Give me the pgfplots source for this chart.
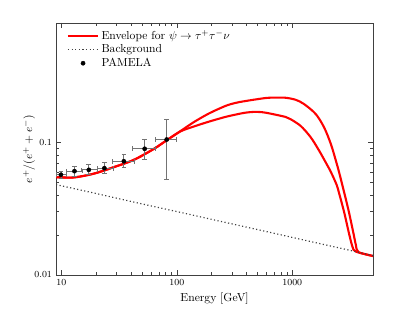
\documentclass[border=0pt]{standalone}
\usepackage{pgfplots}
\pgfplotsset{compat=1.18}
\pgfplotsset{
  mylegline/.style={legend image code/.code={\draw[##1] (0pt,0pt) -- (26pt,0pt);}},
  mylegmark/.style={legend image code/.code={\draw[mark repeat=2,mark phase=2,##1] plot coordinates {(0pt,0pt) (13pt,0pt) (26pt,0pt)};}},
}
\begin{document}
\begin{tikzpicture}
\begin{loglogaxis}[
  scale only axis,
  width=273.3pt, height=217.2pt,
  xmin=9, xmax=5000, ymin=0.01, ymax=0.8,
  log ticks with fixed point,
  /pgf/number format/1000 sep={},
  xtick={10,100,1000}, ytick={0.01,0.1},
  tick label style={font=\footnotesize},
  axis line style={black!75, line width=0.7pt},
  every tick/.style={black!75, line width=0.5pt},
  xlabel={Energy [GeV]},
  ylabel={$e^+/(e^++e^-)$},
  ylabel style={at={(axis description cs:-0.085,0.5)}, anchor=center},
  legend style={draw=none, fill=none, at={(axis description cs:0.03,0.985)}, anchor=north west,
    font=\normalsize, row sep=-1pt, inner sep=1pt},
  legend cell align=left,
  clip=true,
]
\addplot[red, line width=1.8pt, smooth, tension=0.5, mylegline] coordinates {
 (9,0.0548) (12.8,0.0545) (19.1,0.0582) (28.5,0.0652) (42.6,0.0741) (63.5,0.0897)
 (81.7,0.104) (106.8,0.1215) (139.4,0.1421) (190,0.1659) (263,0.1888) (320,0.1990)
 (392.6,0.2058) (586,0.2168)
 (720,0.2185) (874,0.2179) (1068,0.2104) (1262,0.1954) (1594,0.1643) (1883,0.1303)
 (2153,0.0978) (2380,0.0732) (2542,0.0595) (2754,0.0451) (2908,0.0373) (3106,0.02925)
 (3366,0.02106) (3552,0.01681) (3735,0.01489) (5000,0.0139)};
\addlegendentry{Envelope for $\psi\rightarrow\tau^+\tau^-\nu$}
\addplot[red, line width=1.8pt, smooth, tension=0.5, forget plot] coordinates {
 (9,0.0548) (12.8,0.0545) (19.1,0.0582) (28.5,0.0652) (42.6,0.0741) (63.5,0.0897)
 (81.7,0.104) (106.8,0.121) (139.4,0.1319) (190,0.1439) (263,0.1561) (320,0.1623)
 (392.6,0.1681) (480,0.1705)
 (586,0.1681) (874,0.1561) (967,0.150) (1181,0.1335) (1443,0.1096) (1703,0.0871)
 (1948,0.0707) (2123,0.0616) (2227,0.0565) (2428,0.0475) (2541,0.0414) (2810,0.02977)
 (3106,0.02033) (3325,0.01624) (3552,0.0150) (5000,0.0139)};
\addplot[black!75, line width=1pt, dash pattern=on 1pt off 2.1pt, mylegline] coordinates {
 (9,0.0481) (20,0.0412) (50,0.0344) (100,0.0301) (200,0.0263) (500,0.0220)
 (1000,0.0192) (2000,0.01677) (3000,0.0155) (5000,0.0140)};
\addlegendentry{Background}
\addplot[only marks, mark=*, mark size=1.8pt, black, mylegmark,
  error bars/.cd, x dir=both, x explicit, y dir=both, y explicit,
  error bar style={black!55, line width=0.7pt},
  error mark options={black!55, line width=0.6pt, mark size=2pt, rotate=90}]
  coordinates {
 (9.92,0.0571) += (1.1,0.0037) -= (0.87,0.0038)
 (13.0,0.0608) += (2.1,0.0048) -= (1.95,0.0049)
 (17.3,0.0622) += (3.1,0.0061) -= (2.4,0.0051)
 (23.6,0.0640) += (4.5,0.0063) -= (3.2,0.0053)
 (34.8,0.0722) += (7.7,0.0090) -= (7.3,0.0078)
 (52.7,0.0897) += (13.0,0.0169) -= (11.6,0.0155)
 (81.7,0.1054) += (18.3,0.0453) -= (16.7,0.0530)
};
\addlegendentry{PAMELA}
\end{loglogaxis}
\useasboundingbox (-48.3pt,-29.3pt) rectangle (306pt,237pt);
\end{tikzpicture}
\end{document}
